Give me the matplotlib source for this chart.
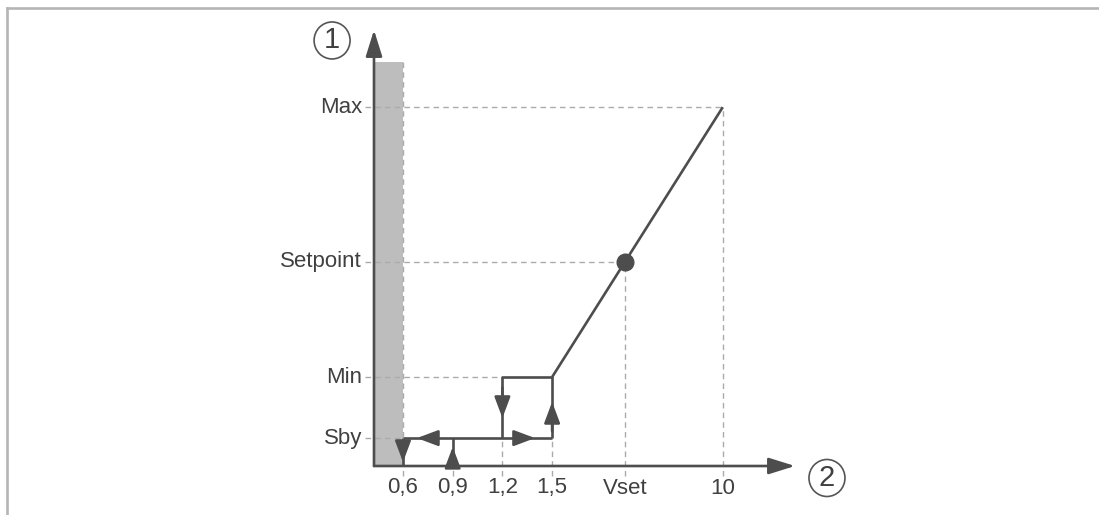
import matplotlib
matplotlib.use("Agg")
import matplotlib.pyplot as plt
from matplotlib.patches import Rectangle, Ellipse
from matplotlib.lines import Line2D

plt.rcParams['font.family'] = ['Liberation Sans', 'DejaVu Sans']

# Output levels (vertical axis, arbitrary units 0-100)
y_labels = ["Sby", "Min", "Setpoint", "Max"]
y_levels = [6.4, 20.4, 46.8, 82.3]

# Control-voltage points (horizontal axis, schematic: scale is compressed above 1,5)
x_labels = ["0,6", "0,9", "1,2", "1,5", "Vset", "10"]
x_points = [0.6, 0.9, 1.2, 1.5, 1.94, 2.53]

# Top of the shaded standby band
standby_top = 92.7

SBY, MIN, SETP, MAX = y_levels
V06, V09, V12, V15, VSET, V10 = x_points

dark = "#4d4d4d"
guide = "#ababab"
shade = "#bdbdbd"
text_c = "#404040"

fig = plt.figure(figsize=(10.99, 5.15), dpi=100)
ax = fig.add_axes([374 / 1099, 49 / 515, 421 / 1099, 436 / 515])
x0, x1 = 0.425, 2.966
ax.set_xlim(x0, x1)
ax.set_ylim(0, 100)
ax.axis("off")

# Page frame (top and left rules)
fig.add_artist(Line2D([6.5 / 1099, 1], [1 - 7.5 / 515] * 2, transform=fig.transFigure,
                      color="#b5b5b5", lw=1.9))
fig.add_artist(Line2D([6.5 / 1099] * 2, [1 - 7.5 / 515, 0], transform=fig.transFigure,
                      color="#b5b5b5", lw=1.9))

# Shaded band below the 0,6 threshold
ax.add_patch(Rectangle((x0, 0), V06 - x0, standby_top, facecolor=shade,
                       edgecolor="none", zorder=1))

dash = dict(color=guide, lw=1.0, linestyle=(0, (4, 3)), zorder=2, clip_on=False)
x_lab_edge = x0 - 9 / 165.7
y_lab_edge = -10 / 4.36

# Horizontal guides from the level labels to the curve
for lvl, x_end in zip(y_levels, [V06, V12, VSET, V10]):
    ax.plot([x_lab_edge, x_end], [lvl, lvl], **dash)

# Vertical guides from the curve down to the tick labels
for xp, y_top in zip(x_points, [standby_top, 0, SBY, SBY, SETP, MAX]):
    ax.plot([xp, xp], [y_lab_edge, y_top], **dash)

# Characteristic curve with hysteresis loop
line = dict(color=dark, lw=1.9, solid_capstyle="butt", zorder=4, clip_on=False)
ax.plot([V06, V15], [SBY, SBY], **line)
ax.plot([V15, V15, V12, V12], [SBY, MIN, MIN, SBY], **line)
ax.plot([V15, V10], [MIN, MAX], **line)
ax.plot([V06, V06], [SBY, 0], **line)
ax.plot([V09, V09], [0, SBY], **line)

# Setpoint marker on the curve
ax.plot([VSET], [SETP], "o", color=dark, markersize=12, zorder=5)


def head(tip, base, length=1.6, width=0.6, scale=8):
    ax.annotate("", xy=tip, xytext=base, annotation_clip=False,
                arrowprops=dict(arrowstyle=f"-|>,head_length={length},head_width={width}",
                                mutation_scale=scale, color=dark, lw=1.9,
                                shrinkA=0, shrinkB=0), zorder=6)


# Direction arrows along the curve
head((0.684, SBY), (0.80, SBY))
head((1.397, SBY), (1.30, SBY))
head((V12, 11.0), (V12, 18.0))
head((V15, 14.7), (V15, 8.0))
head((V06, 0.9), (V06, 5.0))
head((V09, 4.4), (V09, 0.6))

# Axes with arrowheads
head((x0, 100), (x0, 0), length=1.6, width=0.5, scale=10)
head((x1, 0), (x0, 0), length=1.6, width=0.5, scale=10)

# Level labels
for lvl, lab in zip(y_levels, y_labels):
    ax.text(x0 - 12 / 165.7, lvl, lab, ha="right", va="center", fontsize=16,
            color=text_c, clip_on=False)

# Tick labels
for xp, lab in zip(x_points, x_labels):
    ax.text(xp, -22 / 4.36, lab, ha="center", va="center", fontsize=16,
            color=text_c, clip_on=False)

# Circled axis identifiers
for cx, cy, lab in [(0.172, 97.6, "1"), (3.159, -2.75, "2")]:
    ax.add_patch(Ellipse((cx, cy), 36 / 165.7, 37 / 4.36, facecolor="none",
                         edgecolor="#555555", lw=1.2, clip_on=False))
    ax.text(cx, cy, lab, ha="center", va="center", fontsize=21, color=text_c,
            clip_on=False)

fig.savefig("out.png", dpi=100)
